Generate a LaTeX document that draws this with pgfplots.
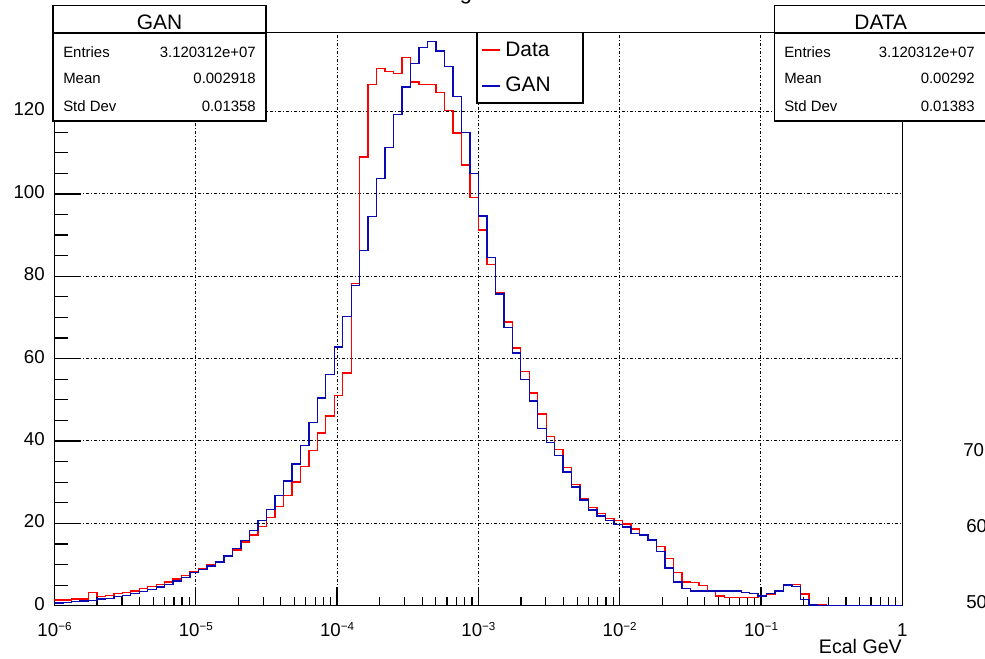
\documentclass[border=0pt]{standalone}
\usepackage{fontspec}
\setmainfont{Liberation Sans}
\usepackage{pgfplots}
\usepackage{pgfplotstable}
\pgfplotsset{compat=1.18}
\definecolor{hred}{RGB}{255,0,0}
\definecolor{hblue}{RGB}{10,10,180}

\pgfplotstableread{
e data gan
-6.00 1.4 0.7
-5.94 1.4 0.8
-5.88 1.6 1.0
-5.82 1.6 1.1
-5.76 3.2 1.3
-5.70 2.2 1.6
-5.64 2.5 1.8
-5.58 2.9 2.2
-5.52 3.2 2.5
-5.46 3.6 3.0
-5.40 4.2 3.4
-5.34 4.7 3.9
-5.28 5.2 4.5
-5.22 5.8 5.2
-5.16 6.5 6.0
-5.10 7.3 6.9
-5.04 8.3 8.0
-4.98 8.9 8.8
-4.92 9.9 9.6
-4.86 10.6 10.6
-4.80 11.9 12.1
-4.74 13.5 13.9
-4.68 15.5 15.9
-4.62 17.2 18.2
-4.56 19.2 20.7
-4.50 21.4 23.4
-4.44 24.1 26.8
-4.38 26.8 30.3
-4.32 30.0 34.4
-4.26 33.8 38.9
-4.20 37.7 44.5
-4.14 41.9 50.4
-4.08 46.1 56.1
-4.02 51.0 62.8
-3.96 56.5 70.2
-3.90 78.2 77.8
-3.84 109.0 86.2
-3.78 126.6 94.5
-3.72 130.5 103.7
-3.66 129.8 111.2
-3.60 129.3 119.3
-3.54 133.2 126.0
-3.48 127.2 131.6
-3.42 126.6 135.5
-3.36 126.6 137.0
-3.30 124.7 134.7
-3.24 120.3 131.0
-3.18 114.8 123.6
-3.12 107.0 114.9
-3.06 99.1 104.9
-3.00 91.2 94.6
-2.94 82.9 84.6
-2.88 76.0 75.7
-2.82 68.9 67.6
-2.76 62.6 61.4
-2.70 56.9 54.9
-2.64 51.7 49.7
-2.58 46.6 43.1
-2.52 41.1 39.7
-2.46 38.0 36.5
-2.40 33.5 32.5
-2.34 29.5 28.8
-2.28 26.0 25.7
-2.22 23.9 23.2
-2.16 22.4 21.8
-2.10 21.2 20.7
-2.04 20.7 19.7
-1.98 19.8 19.1
-1.92 18.6 17.6
-1.86 17.2 17.2
-1.80 16.1 16.0
-1.74 14.4 13.1
-1.68 11.5 9.2
-1.62 8.0 5.8
-1.56 5.8 4.2
-1.50 5.6 3.6
-1.44 4.9 3.6
-1.38 3.6 3.6
-1.32 2.4 3.6
-1.26 2.0 3.6
-1.20 2.0 3.6
-1.14 2.0 3.2
-1.08 2.0 3.0
-1.02 2.4 2.4
-0.96 2.8 3.0
-0.90 3.6 3.6
-0.84 4.9 5.0
-0.78 5.1 4.6
-0.72 2.8 1.5
-0.66 0.3 0.15
-0.60 0.15 0
-0.54 0 0
-0.48 0 0
-0.42 0 0
-0.36 0 0
-0.30 0 0
-0.24 0 0
-0.18 0 0
-0.12 0 0
-0.06 0 0
0.00 0 0
}\hist

\begin{document}
\begin{tikzpicture}
\begin{axis}[
  at={(0,0)}, anchor=south west, scale only axis,
  width=635.85pt, height=429.9pt,
  xmode=log, xmin=1e-6, xmax=1, ymin=0, ymax=139.2,
  xtick={1e-6,1e-5,1e-4,1e-3,1e-2,1e-1,1},
  xticklabels={10\raisebox{5pt}{\fontsize{8.7}{10}\selectfont −6},
               10\raisebox{5pt}{\fontsize{8.7}{10}\selectfont −5},
               10\raisebox{5pt}{\fontsize{8.7}{10}\selectfont −4},
               10\raisebox{5pt}{\fontsize{8.7}{10}\selectfont −3},
               10\raisebox{5pt}{\fontsize{8.7}{10}\selectfont −2},
               10\raisebox{5pt}{\fontsize{8.7}{10}\selectfont −1},
               1},
  ytick={0,20,...,120}, yticklabels={0,20,40,60,80,100,120},
  tick align=inside, xtick pos=bottom, ytick pos=left,
  grid=major,
  major grid style={black, line width=0.75pt, dash pattern=on 2.25pt off 1.5pt on 0.75pt off 1.5pt},
  axis line style={line width=0.9pt},
  tick style={black, line width=0.9pt},
  ytick style={draw=none},
  major tick length=14.25pt, minor tick length=6.25pt,
  ticklabel style={font=\fontsize{14}{16}\selectfont},
  xticklabel style={anchor=base, inner sep=0pt, yshift=-23.3pt},
  yticklabel style={anchor=east, inner sep=0pt, xshift=-7.1pt, yshift=1.5pt},
]
\addplot[const plot, hred, line width=1.05pt] table[x expr={10^(\thisrow{e})}, y=data] {\hist};
\addplot[const plot, hblue, line width=1.05pt] table[x expr={10^(\thisrow{e})}, y=gan] {\hist};
% y-axis tick marks (ROOT style: long major, shorter minor, inside)
\pgfplotsinvokeforeach{0,20,40,60,80,100,120}{
  \draw[black, line width=0.9pt] (axis cs:1e-6,#1) -- ([xshift=20pt]axis cs:1e-6,#1);
}
\pgfplotsinvokeforeach{5,10,15,25,30,35,45,50,55,65,70,75,85,90,95,105,110,115,125,130,135}{
  \draw[black, line width=0.9pt] (axis cs:1e-6,#1) -- ([xshift=10pt]axis cs:1e-6,#1);
}
\end{axis}
\begin{scope}[x=0.75pt,y=-0.75pt,shift={(-40.875pt,454.275pt)}]
  \path (0,0) rectangle (985,658);
  \node[overlay, anchor=base, inner sep=0pt, font=\fontsize{16.5}{18}\selectfont] at (466,-0.6) {g};
  \draw[fill=white, line width=0.9pt] (53,5.7) rectangle (266,121);
  \draw[line width=0.9pt] (53,33) -- (266,33);
  \node[anchor=base, inner sep=0pt, font=\fontsize{15.7}{18}\selectfont] at (159.5,30) {GAN};
  \begin{scope}[every node/.style={inner sep=0pt, font=\fontsize{11.2}{13}\selectfont}]
    \node[anchor=base west] at (63,57.3) {Entries};
    \node[anchor=base west] at (63,83.3) {Mean};
    \node[anchor=base west] at (63,111.2) {Std Dev};
    \node[anchor=base east] at (256,57.3) {3.120312e+07};
    \node[anchor=base east] at (256,83.3) {0.002918};
    \node[anchor=base east] at (256,111.2) {0.01358};
  \end{scope}
  \draw[overlay, fill=white, line width=0.9pt] (774.7,5.7) rectangle (988,121);
  \draw[overlay, line width=0.9pt] (774.7,33) -- (988,33);
  \node[anchor=base, inner sep=0pt, font=\fontsize{15.7}{18}\selectfont] at (880.8,30) {DATA};
  \begin{scope}[every node/.style={inner sep=0pt, font=\fontsize{11.2}{13}\selectfont}]
    \node[anchor=base west] at (784,57.3) {Entries};
    \node[anchor=base west] at (784,83.3) {Mean};
    \node[anchor=base west] at (784,111.2) {Std Dev};
    \node[anchor=base east] at (975,57.3) {3.120312e+07};
    \node[anchor=base east] at (975,83.3) {0.00292};
    \node[anchor=base east] at (975,111.2) {0.01383};
  \end{scope}
  \draw[fill=white, line width=0.9pt] (477,32.5) rectangle (583,103);
  \draw[hred, line width=1pt] (481.7,50) -- (500,50);
  \draw[hblue, line width=1pt] (481.7,86) -- (500,86);
  \node[anchor=base west, inner sep=0pt, font=\fontsize{15.7}{18}\selectfont] at (505,56.7) {Data};
  \node[anchor=base west, inner sep=0pt, font=\fontsize{15.7}{18}\selectfont] at (505,91.7) {GAN};
  \node[anchor=base east, inner sep=0pt, font=\fontsize{14.7}{17}\selectfont] at (902,653) {Ecal GeV};
  \begin{scope}[every node/.style={overlay, anchor=base west, inner sep=0pt, font=\fontsize{14}{16}\selectfont}]
    \node at (963,456.7) {70};
    \node at (966,532.7) {60};
    \node at (966,608.5) {50};
  \end{scope}
\end{scope}
\end{tikzpicture}
\end{document}
